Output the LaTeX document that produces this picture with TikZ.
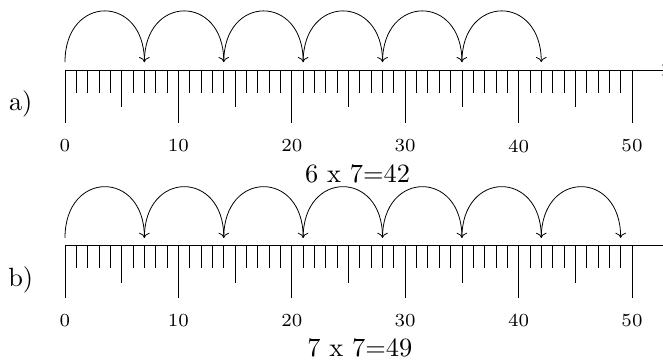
\documentclass[tikz,border=0pt]{standalone}
\usetikzlibrary{positioning,calc,arrows.meta}

\newcommand{\bigtxt}[1]{\scalebox{2.64}{\normalsize #1}}
\newcommand{\numtxt}[1]{\scalebox{2.64}{\scriptsize #1}}

\begin{document}
\begin{tikzpicture}[
    x=11.34pt, y=11.34pt,
    axis/.style={line width=0.9pt},
    tick/.style={line width=0.8pt},
    hop/.style={-{To[scale=1.5]}, line width=0.8pt, out=90, in=90, looseness=2.2},
    num/.style={inner sep=0pt},
    tag/.style={inner sep=0pt},
]
\useasboundingbox (-5.732,-25.573) rectangle (52.734,6.173);

% Row a) : six hops of 7
\coordinate (aStart) at (0,0);
\coordinate (aEnd) at (53.15,0);
\draw[axis,-{To[scale=1.5]}] (aStart) -- (aEnd);
\foreach \i in {0,...,50} \draw[tick] (\i,0) -- (\i,-2.05);
\foreach \i in {5,15,...,45} \draw[tick] (\i,0) -- (\i,-3.3);
\foreach \i in {0,10,...,50} \draw[tick] (\i,0) -- (\i,-4.7);
\foreach \n in {0,10,...,50} \node[num] (aNum\n) at (\n,-6.7) {\numtxt{\n}};
\foreach \k in {0,...,6} \coordinate (aHop\k) at ({7*\k},0.7);
\foreach \k [evaluate=\k as \j using int(\k+1)] in {0,...,5}
    \draw[hop] (aHop\k) to (aHop\j);
\node[tag, anchor=base] (aTag) at (-3.9,-3.6) {\bigtxt{a)}};
\node[tag, anchor=base] (aProd) at (25.8,-9.96) {\bigtxt{6 x 7=42}};

% Row b) : seven hops of 7
\begin{scope}[shift={(0,-15.5)}]
\coordinate (bStart) at (0,0);
\coordinate (bEnd) at (53.5,0);
\draw[axis] (bStart) -- (bEnd);
\foreach \i in {0,...,50} \draw[tick] (\i,0) -- (\i,-2.0);
\foreach \i in {5,15,...,45} \draw[tick] (\i,0) -- (\i,-3.3);
\foreach \i in {0,10,...,50} \draw[tick] (\i,0) -- (\i,-4.6);
\foreach \n in {0,10,...,50} \node[num] (bNum\n) at (\n,-6.6) {\numtxt{\n}};
\foreach \k in {0,...,7} \coordinate (bHop\k) at ({7*\k},0.7);
\foreach \k [evaluate=\k as \j using int(\k+1)] in {0,...,6}
    \draw[hop] (bHop\k) to (bHop\j);
\node[tag, anchor=base] (bTag) at (-3.9,-3.55) {\bigtxt{b)}};
\node[tag, anchor=base] (bProd) at (26.0,-9.75) {\bigtxt{7 x 7=49}};
\end{scope}

\end{tikzpicture}
\end{document}
